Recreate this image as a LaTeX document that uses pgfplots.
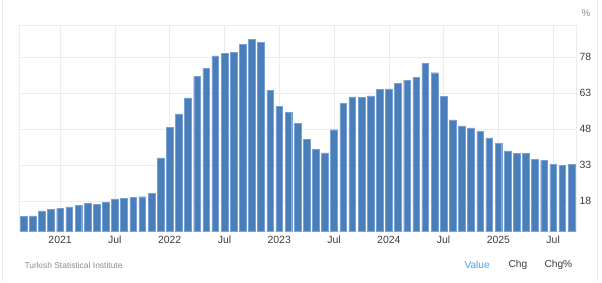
\documentclass[border=0pt]{standalone}
\usepackage{pgfplots}
\pgfplotsset{compat=1.18}
\usepackage{fontspec}
\setmainfont{Liberation Sans}
\definecolor{barblue}{RGB}{74,126,187}
\definecolor{baredge}{RGB}{120,160,210}
\definecolor{gridc}{RGB}{236,236,236}
\definecolor{txt}{RGB}{60,60,60}
\definecolor{srcc}{RGB}{140,140,140}
\definecolor{valblue}{RGB}{70,160,245}
\pgfplotstableread{
idx val
0 11.75
1 11.89
2 14.03
3 14.60
4 14.97
5 15.61
6 16.19
7 17.14
8 16.59
9 17.53
10 18.95
11 19.25
12 19.58
13 19.89
14 21.31
15 36.08
16 48.69
17 54.44
18 61.14
19 69.97
20 73.50
21 78.62
22 79.60
23 80.21
24 83.45
25 85.51
26 84.39
27 64.27
28 57.68
29 55.18
30 50.51
31 43.68
32 39.59
33 38.21
34 47.83
35 58.94
36 61.53
37 61.36
38 61.98
39 64.77
40 64.86
41 67.07
42 68.50
43 69.80
44 75.45
45 71.60
46 61.78
47 51.97
48 49.38
49 48.58
50 47.09
51 44.38
52 42.12
53 39.05
54 38.10
55 37.86
56 35.41
57 35.05
58 33.52
59 32.95
60 33.29
}\inflation
\begin{document}
\begin{tikzpicture}[x=1bp,y=1bp]
\path[use as bounding box] (0,0) rectangle (602,282);
\draw[gridc] (2,0) -- (2,282);
\draw[gridc] (597,0) -- (597,282);
\begin{axis}[
  at={(19bp,50.3bp)}, anchor=south west,
  scale only axis, width=557bp, height=206.7bp,
  xmin=-0.5, xmax=60.5, ymin=5.3, ymax=91.5,
  ybar, bar width=6.7bp,
  xtick={4,10,16,22,28,34,40,46,52,58},
  xticklabels={2021,Jul,2022,Jul,2023,Jul,2024,Jul,2025,Jul},
  ytick={18,33,48,63,78},
  yticklabel pos=right,
  major tick length=0pt,
  xmajorgrids, ymajorgrids,
  grid style={draw=gridc, line width=0.6pt},
  axis line style={draw=gridc, line width=0.6pt},
  tick label style={font=\fontsize{10.5}{12}\selectfont, text=txt},
  /pgf/number format/assume math mode=true,
  xticklabel style={yshift=-1bp},
  yticklabel style={xshift=0bp, anchor=west},
  clip=true,
]
\addplot[fill=barblue, draw=baredge, line width=0.4pt] table[x=idx,y=val]{\inflation};
\end{axis}
\node[anchor=center, text=srcc, font=\fontsize{10}{12}\selectfont] at (586,269) {\%};
\node[anchor=west, text=srcc, font=\fontsize{8.5}{10}\selectfont] at (21,17) {Turkish Statistical Institute};
\node[anchor=west, text=valblue, font=\fontsize{10.2}{12}\selectfont] at (461,17) {Value};
\node[anchor=west, text=txt, font=\fontsize{10.2}{12}\selectfont] at (505,17) {Chg};
\node[anchor=west, text=txt, font=\fontsize{10.2}{12}\selectfont] at (541,17) {Chg\%};
\end{tikzpicture}
\end{document}
